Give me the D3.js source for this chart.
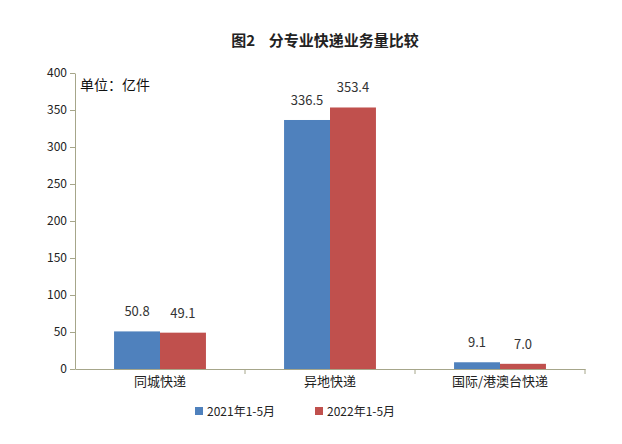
<!DOCTYPE html>
<html><head><meta charset="utf-8">
<script src="https://cdn.jsdelivr.net/npm/d3@7"></script>
<style>body{margin:0;background:#fff}text{font-family:"Noto Sans CJK SC","DejaVu Sans",sans-serif}</style>
</head><body><svg id="c" width="622" height="444"></svg>
<script>
const categories = ["同城快递", "异地快递", "国际/港澳台快递"];
const series = ["2021年1-5月", "2022年1-5月"];
const v2021 = [50.8, 336.5, 9.1];
const v2022 = [49.1, 353.4, 7.0];
const colors = ["#4f81bd", "#c0504d"];
const yTicks = [0, 50, 100, 150, 200, 250, 300, 350, 400];

const svg = d3.select("#c");
const m = {l: 75, r: 37, t: 73, b: 75};
const W = 622, H = 444;
const x = d3.scaleBand().domain(categories).range([m.l, W - m.r]);
const xs = d3.scaleBand().domain(series).range([0, x.bandwidth()]).paddingInner(0).paddingOuter(0.85);
const y = d3.scaleLinear().domain([0, 400]).range([H - m.b, m.t]);
const axisColor = "#a6a68a";

svg.append("text").attr("x", 325).attr("y", 46).attr("text-anchor", "middle")
  .attr("font-size", 15).attr("font-weight", "bold").attr("fill", "#222")
  .text("图2\u00a0\u00a0\u00a0\u00a0分专业快递业务量比较");

const ya = svg.append("g").attr("transform", `translate(${m.l},0)`)
  .call(d3.axisLeft(y).tickValues(yTicks).tickSize(5).tickSizeOuter(0));
ya.select(".domain").attr("stroke", axisColor);
ya.selectAll(".tick line").attr("stroke", axisColor);
ya.selectAll("text").attr("font-size", 12).attr("fill", "#222").attr("font-family", "Liberation Sans, Arial");

const xa = svg.append("g").attr("transform", `translate(0,${y(0)})`)
  .call(d3.axisBottom(x).tickSize(0).tickSizeOuter(0));
xa.select(".domain").attr("stroke", axisColor);
xa.selectAll("text").attr("font-size", 13).attr("fill", "#222").attr("dy", "1.1em");
// category separators
svg.selectAll(".sep").data(categories.slice(1).concat(["end"])).join("line")
  .attr("x1", (d, i) => i < 2 ? x(categories[i + 1]) : W - m.r).attr("x2", (d, i) => i < 2 ? x(categories[i + 1]) : W - m.r)
  .attr("y1", y(0)).attr("y2", y(0) + 5).attr("stroke", axisColor);

svg.append("text").attr("x", 80).attr("y", 90).attr("font-size", 14).attr("fill", "#111").text("单位：亿件");

[v2021, v2022].forEach((vals, si) => {
  const g = svg.append("g");
  g.selectAll("rect").data(vals).join("rect")
    .attr("x", (d, i) => x(categories[i]) + xs(series[si]))
    .attr("width", xs.bandwidth())
    .attr("y", d => y(d)).attr("height", d => y(0) - y(d))
    .attr("fill", colors[si]);
  g.selectAll("text").data(vals).join("text")
    .attr("x", (d, i) => x(categories[i]) + xs(series[si]) + xs.bandwidth() / 2)
    .attr("y", d => y(d) - 15).attr("text-anchor", "middle")
    .attr("font-size", 13).attr("fill", "#333").attr("font-family", "Liberation Sans, Arial")
    .text(d => d.toFixed(1));
});

const lg = svg.append("g").attr("transform", "translate(195,411)");
series.forEach((s, i) => {
  const gi = lg.append("g").attr("transform", `translate(${i * 120},0)`);
  gi.append("rect").attr("x", 0).attr("y", -4).attr("width", 8).attr("height", 8).attr("fill", colors[i]);
  gi.append("text").attr("x", 12).attr("y", 5).attr("font-size", 12).attr("fill", "#222").text(s);
});
</script></body></html>
